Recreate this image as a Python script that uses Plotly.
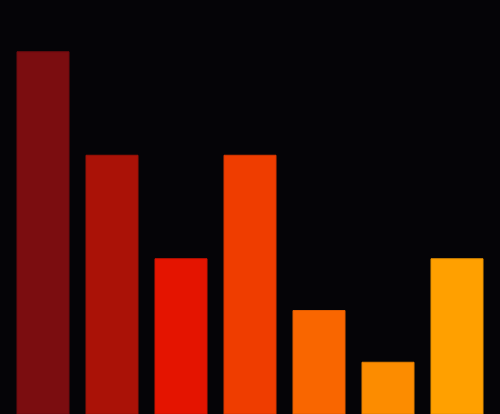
import plotly.graph_objects as go

categories = ["A", "B", "C", "D", "E", "F", "G"]
values = [7, 5, 3, 5, 2, 1, 3]
colors = ["#7b0d10", "#aa1207", "#e41400", "#ef3d00", "#f96600", "#fc8c00", "#ffa000"]
edge_colors = ["#6e0b0e", "#991006", "#cd1200", "#d73700", "#e05c00", "#e37e00", "#e69000"]

fig = go.Figure(go.Bar(
    x=list(range(len(categories))),
    y=values,
    width=52 / 69,
    marker=dict(color=colors, line=dict(color=edge_colors, width=1)),
    hoverinfo="skip",
))

fig.update_layout(
    width=500, height=414,
    margin=dict(l=0, r=0, t=0, b=0),
    paper_bgcolor="#050407",
    plot_bgcolor="#050407",
    showlegend=False,
    xaxis=dict(visible=False, range=[-43 / 69, (500 - 43) / 69]),
    yaxis=dict(visible=False, range=[0, 8]),
)

fig.write_html(
    "out.html",
    config={"displayModeBar": False},
    post_script="document.body.style.margin='0';document.body.style.background='#050407';document.body.style.overflow='hidden';",
)
